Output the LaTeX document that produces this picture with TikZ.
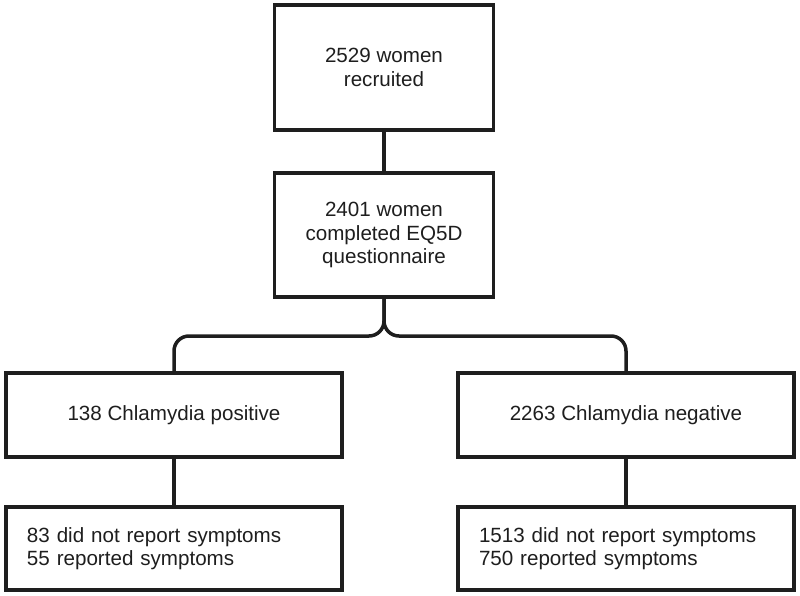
\documentclass[tikz,border=0pt]{standalone}
\usepackage{fontspec}
\setmainfont{Liberation Sans}
\definecolor{ink}{HTML}{1E1E1E}
\begin{document}
\begin{tikzpicture}[x=1pt,y=-1pt,
  box/.style={draw=ink,line width=3.5pt,fill=white,inner sep=0pt,align=center,
    font=\fontsize{20.6}{23.5}\selectfont,text=ink},
  wide/.style={box,minimum width=336pt,minimum height=84pt},
  listbox/.style={draw=ink,line width=3.5pt,fill=white,inner xsep=21pt,inner ysep=0pt,
    text width=294pt,align=left,minimum height=83pt,
    font=\fontsize{20.6}{23.5}\selectfont,text=ink},
  conn/.style={draw=ink,line width=3.5pt,rounded corners=15pt}]
\useasboundingbox (0,0) rectangle (800,596);
\node[box,minimum width=219pt,minimum height=125pt] (b1) at (384,67.5) {2529 women\\recruited};
\node[box,minimum width=219pt,minimum height=124pt] (b2) at (384,235) {2401 women\\completed EQ5D\\questionnaire};
\node[wide] (b3) at (174,415) {138 Chlamydia positive};
\node[wide] (b4) at (626,415) {2263 Chlamydia negative};
\node[listbox] (b5) at (174,548.5) {83 did not report symptoms\\55 reported symptoms};
\node[listbox] (b6) at (626,548.5) {1513 did not report symptoms\\750 reported symptoms};
\coordinate (j) at (384,336);
\draw[conn] (b1.south) -- (b2.north);
\draw[conn] (b2.south) -- (j) -| (b3.north);
\draw[conn] (b2.south) -- (j) -| (b4.north);
\draw[conn] (b3.south) -- (b5.north);
\draw[conn] (b4.south) -- (b6.north);
\end{tikzpicture}
\end{document}
